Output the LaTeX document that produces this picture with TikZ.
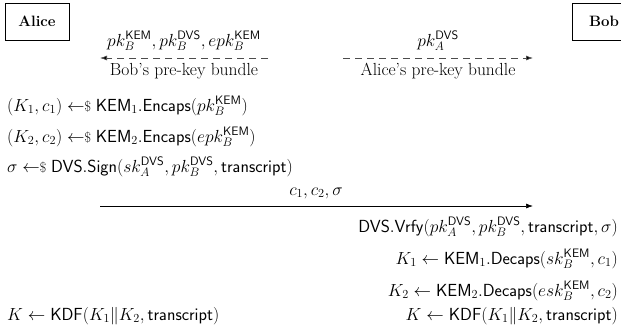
\RequirePackage{fix-cm}
\documentclass[tikz,border=0pt]{standalone}
\usepackage{amsmath}
\usetikzlibrary{arrows.meta}
\newcommand{\rsample}{\mathrel{\leftarrow\mkern-5mu\scalebox{0.8}{$\$$}}}
\newcommand{\KEMs}{\mathsf{KEM}}
\newcommand{\DVSs}{\mathsf{DVS}}
\newcommand{\Trs}{\mathsf{transcript}}
\begin{document}
\begin{tikzpicture}[x=1pt,y=-1pt,
  font=\fontsize{17.5}{20}\selectfont,
  party/.style={draw, line width=0.6pt, minimum width=64pt, minimum height=37pt, inner sep=0pt, font=\fontsize{15}{18}\selectfont\bfseries},
  txt/.style={inner sep=0pt},
  prekey/.style={draw=black!70, line width=0.7pt, dash pattern=on 7pt off 5pt, -{Latex[length=7pt,width=5pt,fill=black]}},
  msg/.style={line width=0.7pt, -{Latex[length=7pt,width=5pt]}}]
\useasboundingbox (0,0) rectangle (621,333);
\node[party] (alice) at (37,21.5) {Alice};
\node[party] (bob) at (604,21.5) {Bob};
% pre-key bundles
\coordinate (b1) at (268,58);
\coordinate (b2) at (100,58);
\draw[prekey] (b1) -- (b2);
\node[txt, anchor=base] (bl1) at (184,46) {$pk_B^{\KEMs}, pk_B^{\DVSs}, epk_B^{\KEMs}$};
\node[txt, anchor=base] (bl2) at (184,75) {Bob’s pre-key bundle};
\coordinate (a1) at (343,58);
\coordinate (a2) at (533,58);
\draw[prekey] (a1) -- (a2);
\node[txt, anchor=base] (al1) at (438,46) {$pk_A^{\DVSs}$};
\node[txt, anchor=base] (al2) at (438,75) {Alice’s pre-key bundle};
% Alice computations
\node[txt, anchor=base west] (l1) at (7,111) {$(K_1, c_1) \rsample \KEMs_1.\mathsf{Encaps}(pk_B^{\KEMs})$};
\node[txt, anchor=base west] (l2) at (7,142) {$(K_2, c_2) \rsample \KEMs_2.\mathsf{Encaps}(epk_B^{\KEMs})$};
\node[txt, anchor=base west] (l3) at (7,172) {$\sigma \rsample \DVSs.\mathsf{Sign}(sk_A^{\DVSs}, pk_B^{\DVSs}, \Trs)$};
% message
\coordinate (m1) at (100,206);
\coordinate (m2) at (533,206);
\draw[msg] (m1) -- (m2);
\node[txt, anchor=base] (ml) at (316,195) {$c_1, c_2, \sigma$};
% Bob computations
\node[txt, anchor=base east] (r1) at (618,232) {$\DVSs.\mathsf{Vrfy}(pk_A^{\DVSs}, pk_B^{\DVSs}, \Trs, \sigma)$};
\node[txt, anchor=base east] (r2) at (618,264) {$K_1 \leftarrow \KEMs_1.\mathsf{Decaps}(sk_B^{\KEMs}, c_1)$};
\node[txt, anchor=base east] (r3) at (618,296) {$K_2 \leftarrow \KEMs_2.\mathsf{Decaps}(esk_B^{\KEMs}, c_2)$};
\node[txt, anchor=base east] (r4) at (618,320) {$K \leftarrow \mathsf{KDF}(K_1 \| K_2, \Trs)$};
\node[txt, anchor=base west] (l4) at (7,320) {$K \leftarrow \mathsf{KDF}(K_1 \| K_2, \Trs)$};
\end{tikzpicture}
\end{document}
